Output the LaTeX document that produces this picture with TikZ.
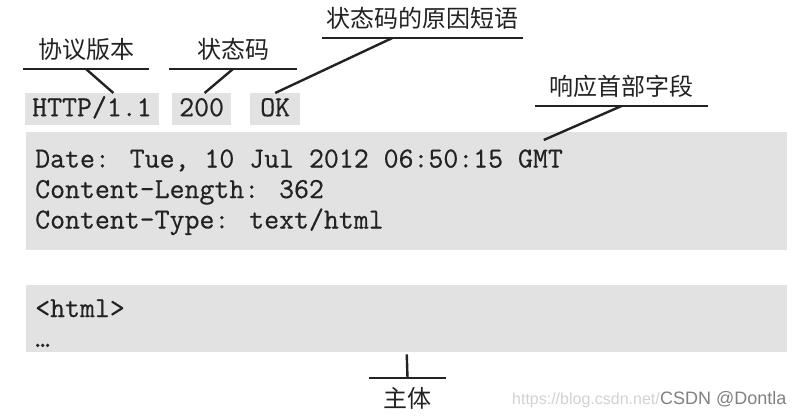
\documentclass[tikz,border=0pt]{standalone}
\usepackage{fontspec}
\newfontfamily\codefont{Latin Modern Mono}[FakeBold=0.5]
\newfontfamily\cjk{Noto Sans CJK SC}
\newfontfamily\wmfont{Liberation Sans}
\usetikzlibrary{calc}
\definecolor{boxgray}{HTML}{E2E2E2}
\definecolor{ink}{HTML}{222222}
\tikzset{
  codebox/.style={fill=boxgray,inner sep=0pt,anchor=north west},
  startbox/.style={fill=boxgray,font=\codefont\fontsize{29}{30}\selectfont,text=ink,
    inner xsep=7pt,inner ysep=5pt,text height=18pt,text depth=4pt,anchor=north west},
  code/.style={font=\codefont\fontsize{29}{30}\selectfont,text=ink,inner sep=0pt,anchor=base west},
  tag/.style={font=\cjk\fontsize{24}{28}\selectfont,text=ink,inner xsep=0pt,inner ysep=10pt,
    text depth=0pt,anchor=south},
  tagbelow/.style={tag,anchor=north,text height=19pt},
  rule/.style={line width=2.4pt,draw=ink}
}

\begin{document}
\begin{tikzpicture}[x=1pt,y=-1pt]
\useasboundingbox (0,0) rectangle (800,415);
% status line
\node (httpbox) [startbox] at (25,93) {HTTP/1.1};
\node (codebox) [startbox] at (172,93) {200};
\node (okbox) [startbox,minimum width=50pt] at (250,93) {OK};
% header fields
\node (hdrbox) [codebox,minimum width=761pt,minimum height=118pt] at (26,132) {};
\node (hdrdate) [code] at (35,167.5) {Date: Tue, 10 Jul 2012 06:50:15 GMT};
\node (hdrlen) [code] at (35,198) {Content-Length: 362};
\node (hdrtype) [code] at (35,228.5) {Content-Type: text/html};
% body
\node (bodybox) [codebox,minimum width=761pt,minimum height=67pt] at (26,285) {};
\node (bodyhtml) [code] at (35,317) {<html>};
\node (bodydots) [code] at (35,347) {…};
%
\node (tagver) [tag,minimum width=125pt] at (86,69) {协议版本};
\node (tagcode) [tag,minimum width=128pt] at (233,69) {状态码};
\node (tagphr) [tag,minimum width=201pt] at (422.5,38) {状态码的原因短语};
\node (taghdr) [tag,minimum width=173pt] at (621.5,106) {响应首部字段};
\node (tagbody) [tagbelow,minimum width=77pt] at (407.5,378) {主体};
%
\draw[rule] (tagver.south west) -- (tagver.south east);
\draw[rule] (tagcode.south west) -- (tagcode.south east);
\draw[rule] (tagphr.south west) -- (tagphr.south east);
\draw[rule] (taghdr.south west) -- (taghdr.south east);
\draw[rule] (tagbody.north west) -- (tagbody.north east);
%
\draw[rule] (tagver.south) -- ($(httpbox.north west)!0.66!(httpbox.north east)$);
\draw[rule] (tagcode.south) -- ($(codebox.north west)!0.55!(codebox.north east)$);
\draw[rule] ($(tagphr.south west)!0.35!(tagphr.south east)$) -- (okbox.north);
\draw[rule] (taghdr.south) -- ($(hdrbox.north west)!0.68!(hdrbox.north east)+(0,8)$);
\draw[rule,shorten <=2pt] (bodybox.south) -- (tagbody.north);
% watermark
\node (wmurl) [font=\wmfont\fontsize{16}{18}\selectfont,text=black!18,inner sep=0pt,anchor=base east] at (660,404) {https://blog.csdn.net/};
\node (wmname) [font=\wmfont\fontsize{18}{20}\selectfont,text=black!50,inner sep=0pt,anchor=base west] at (660,404) {CSDN @Dontla};
\end{tikzpicture}
\end{document}
